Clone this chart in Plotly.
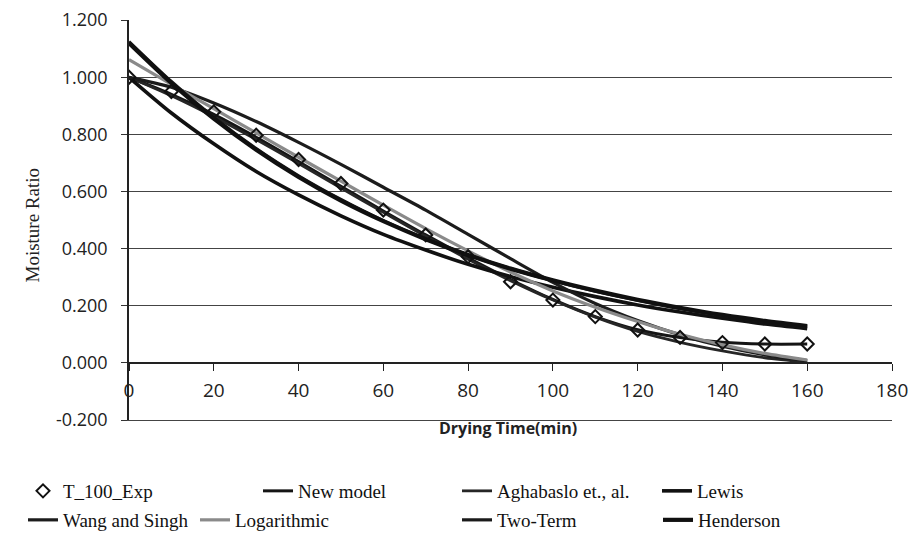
import plotly.graph_objects as go

# Drying time (min) and measured moisture ratio at 100 °C
time_min = [0, 10, 20, 30, 40, 50, 60, 70, 80, 90, 100, 110, 120, 130, 140, 150, 160]
mr_exp = [1.000, 0.950, 0.879, 0.797, 0.712, 0.628, 0.535, 0.448, 0.372, 0.284,
          0.220, 0.162, 0.115, 0.089, 0.071, 0.066, 0.066]

# Predicted moisture ratio of each thin-layer model
mr_new_model = [1.000, 0.940, 0.870, 0.790, 0.705, 0.618, 0.532, 0.448, 0.368, 0.292,
                0.222, 0.162, 0.116, 0.089, 0.072, 0.066, 0.066]
mr_aghabaslo = [1.000, 0.935, 0.862, 0.782, 0.698, 0.612, 0.527, 0.443, 0.363, 0.288,
                0.220, 0.160, 0.110, 0.072, 0.042, 0.018, 0.003]
mr_lewis = [1.000, 0.875, 0.767, 0.670, 0.588, 0.515, 0.450, 0.395, 0.345, 0.302,
            0.265, 0.232, 0.203, 0.178, 0.156, 0.136, 0.120]
mr_wang_singh = [1.000, 0.965, 0.910, 0.845, 0.772, 0.695, 0.615, 0.535, 0.450, 0.365,
                 0.282, 0.208, 0.148, 0.098, 0.058, 0.028, 0.008]
mr_logarithmic = [1.062, 0.975, 0.890, 0.805, 0.720, 0.636, 0.552, 0.470, 0.392, 0.318,
                  0.252, 0.195, 0.145, 0.100, 0.063, 0.033, 0.010]
mr_two_term = [1.125, 0.985, 0.860, 0.750, 0.655, 0.572, 0.498, 0.434, 0.378, 0.330,
               0.288, 0.251, 0.219, 0.190, 0.166, 0.145, 0.126]
mr_henderson = [1.120, 0.980, 0.855, 0.746, 0.651, 0.568, 0.496, 0.433, 0.378, 0.330,
                0.289, 0.253, 0.221, 0.193, 0.168, 0.147, 0.129]

y_ticks = [-0.2, 0.0, 0.2, 0.4, 0.6, 0.8, 1.0, 1.2]
x_ticks = [0, 20, 40, 60, 80, 100, 120, 140, 160, 180]
y_range = [-0.2, 1.2005]

# plot-area geometry in pixels (used to place legends / titles in paper units)
FIG_W, FIG_H = 912, 538
L, R, T, B = 129, 20, 20, 118
PW, PH = FIG_W - L - R, FIG_H - T - B


def px_x(px):
    return (px - L) / PW


def px_y(py):
    return (FIG_H - B - py) / PH


def y_frac(v):
    return (v - y_range[0]) / (y_range[1] - y_range[0])


legend_font = dict(family="Liberation Serif", size=19, color="#111")

models = [
    ("New model", mr_new_model, "#151515", 3.0, "legend2"),
    ("Aghabaslo et., al.", mr_aghabaslo, "#262626", 2.8, "legend3"),
    ("Lewis", mr_lewis, "#111111", 3.6, "legend4"),
    ("Wang and Singh", mr_wang_singh, "#1c1c1c", 3.2, "legend5"),
    ("Logarithmic", mr_logarithmic, "#8a8a8a", 3.2, "legend6"),
    ("Two-Term", mr_two_term, "#1a1a1a", 3.2, "legend7"),
    ("Henderson", mr_henderson, "#101010", 4.2, "legend8"),
]

fig = go.Figure()
for name, vals, color, width, leg in models:
    fig.add_trace(go.Scatter(
        x=time_min, y=vals, name=name, mode="lines",
        line=dict(color=color, width=width, shape="spline", smoothing=0.8),
        legend=leg,
    ))

fig.add_trace(go.Scatter(
    x=time_min, y=mr_exp, name="T_100_Exp", mode="markers",
    marker=dict(symbol="diamond-open", size=10, color="#111",
                line=dict(width=2, color="#111")),
    legend="legend",
))

# empty trace on a second x-axis that supplies the frame line along the plot bottom
fig.add_trace(go.Scatter(x=[None], y=[None], xaxis="x2", showlegend=False,
                         hoverinfo="skip"))

# one legend box per entry, laid out in two rows under the chart
row1, row2 = 491, 520
legend_pos = {
    "legend": (23, row1),
    "legend2": (258, row1),
    "legend3": (457, row1),
    "legend4": (657, row1),
    "legend5": (23, row2),
    "legend6": (195, row2),
    "legend7": (457, row2),
    "legend8": (658, row2),
}
legend_layout = {}
for key, (lx, ly) in legend_pos.items():
    legend_layout[key] = dict(
        x=px_x(lx), y=px_y(ly), xanchor="left", yanchor="middle",
        orientation="h", font=legend_font, bgcolor="rgba(0,0,0,0)",
        borderwidth=0, itemwidth=30, tracegroupgap=0,
    )

fig.update_layout(
    width=FIG_W, height=FIG_H,
    margin=dict(l=L, r=R, t=T, b=B, pad=0, autoexpand=False),
    paper_bgcolor="white", plot_bgcolor="white",
    showlegend=True,
    **legend_layout,
    xaxis=dict(
        range=[0, 180], tickvals=x_ticks, ticktext=[str(v) for v in x_ticks],
        anchor="free", position=y_frac(0.0),
        showline=True, linecolor="#222", linewidth=1.5,
        ticks="outside", ticklen=7, tickcolor="#222", tickwidth=1.2,
        showgrid=False, zeroline=False,
        tickfont=dict(family="Open Sans", size=19, color="#222"),
        ticklabelstandoff=4,
    ),
    xaxis2=dict(
        range=[0, 180], overlaying="x", anchor="y", side="bottom",
        showline=True, linecolor="#444", linewidth=1.2,
        showticklabels=False, ticks="", showgrid=False, zeroline=False,
    ),
    yaxis=dict(
        range=y_range, tickvals=y_ticks,
        ticktext=[f"{v:.3f}" for v in y_ticks],
        showline=True, linecolor="#222", linewidth=1.5,
        ticks="outside", ticklen=6, tickcolor="#333", tickwidth=1,
        showgrid=True, gridcolor="#444", gridwidth=1,
        zeroline=False,
        tickfont=dict(family="Open Sans", size=18, color="#222"),
        ticklabelstandoff=10,
    ),
    annotations=[
        dict(text="Moisture Ratio", x=px_x(20), y=px_y(225), xref="paper", yref="paper",
             textangle=-90, showarrow=False,
             font=dict(family="Liberation Serif", size=19, color="#222")),
        dict(text="<b>Drying Time(min)</b>", x=px_x(508), y=px_y(441),
             xref="paper", yref="paper", showarrow=False,
             font=dict(family="Open Sans", size=16, color="#222")),
    ],
)

fig.write_html("out.html")
